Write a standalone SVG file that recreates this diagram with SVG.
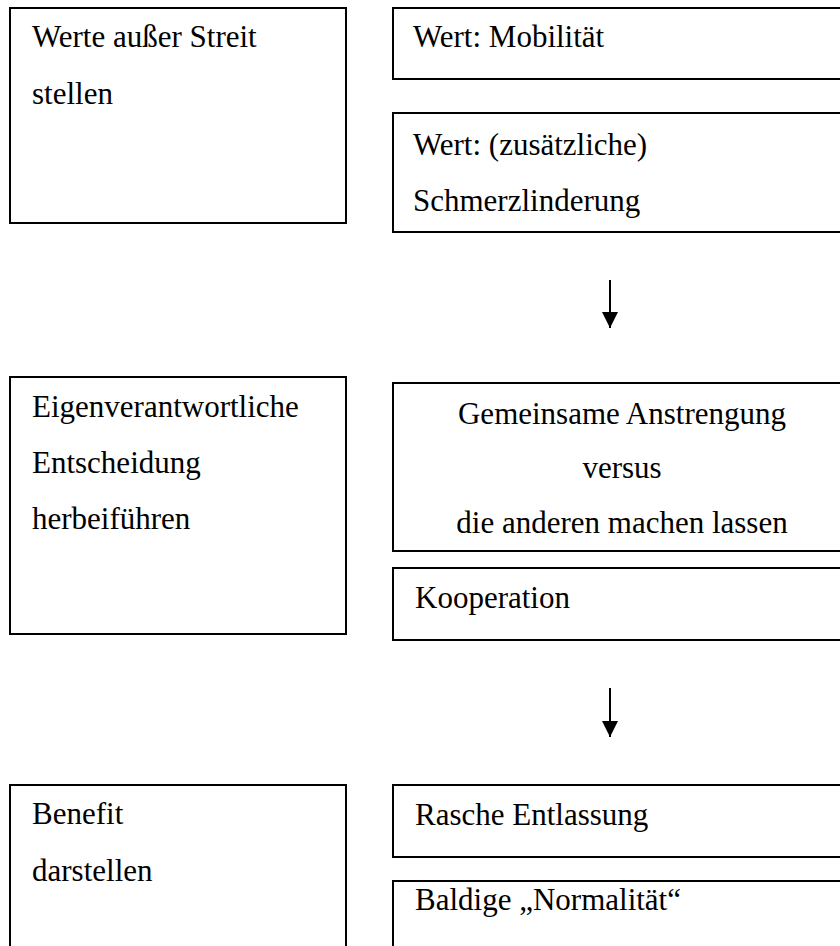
<svg xmlns="http://www.w3.org/2000/svg" width="840" height="946" viewBox="0 0 840 946">
  <style>
    .box { fill: #ffffff; stroke: #000000; stroke-width: 2; }
    .lbl { font-family: "Liberation Serif", "Times New Roman", serif; font-size: 31px; fill: #000000; }
    .mid { text-anchor: middle; }
    .conn { stroke: #000000; stroke-width: 2; fill: none; }
  </style>
  <defs>
    <marker id="head" viewBox="0 0 16 16" refX="16" refY="8" markerWidth="16" markerHeight="16" markerUnits="userSpaceOnUse" orient="auto">
      <path d="M0,0 L16,8 L0,16 Z" fill="#000000"/>
    </marker>
  </defs>
  <rect width="840" height="946" fill="#ffffff"/>

  <!-- row 1 -->
  <g id="werte">
    <rect class="box" x="10" y="8" width="336" height="215"/>
    <text class="lbl" x="32" y="47">Werte außer Streit</text>
    <text class="lbl" x="32" y="104">stellen</text>
  </g>
  <g id="mobilitaet">
    <rect class="box" x="393" y="8" width="460" height="71"/>
    <text class="lbl" x="413" y="47">Wert: Mobilität</text>
  </g>
  <g id="schmerz">
    <rect class="box" x="393" y="113" width="460" height="119"/>
    <text class="lbl" x="413" y="155">Wert: (zusätzliche)</text>
    <text class="lbl" x="413" y="211">Schmerzlinderung</text>
  </g>

  <!-- row 2 -->
  <g id="entscheidung">
    <rect class="box" x="10" y="377" width="336" height="257"/>
    <text class="lbl" x="32" y="417">Eigenverantwortliche</text>
    <text class="lbl" x="32" y="473">Entscheidung</text>
    <text class="lbl" x="32" y="529">herbeiführen</text>
  </g>
  <g id="anstrengung">
    <rect class="box" x="393" y="383" width="460" height="168"/>
    <text class="lbl mid" x="622" y="424">Gemeinsame Anstrengung</text>
    <text class="lbl mid" x="622" y="478">versus</text>
    <text class="lbl mid" x="622" y="533">die anderen machen lassen</text>
  </g>
  <g id="kooperation">
    <rect class="box" x="393" y="568" width="460" height="72"/>
    <text class="lbl" x="415" y="608">Kooperation</text>
  </g>

  <!-- row 3 -->
  <g id="benefit">
    <rect class="box" x="10" y="785" width="336" height="180"/>
    <text class="lbl" x="32" y="824">Benefit</text>
    <text class="lbl" x="32" y="881">darstellen</text>
  </g>
  <g id="entlassung">
    <rect class="box" x="393" y="785" width="460" height="72"/>
    <text class="lbl" x="415" y="825">Rasche Entlassung</text>
  </g>
  <g id="normalitaet">
    <rect class="box" x="393" y="881" width="460" height="90"/>
    <text class="lbl" x="415" y="910">Baldige „Normalität“</text>
  </g>

  <!-- connectors -->
  <g id="connectors">
    <line class="conn" x1="610" y1="280" x2="610" y2="328" marker-end="url(#head)"/>
    <line class="conn" x1="610" y1="688" x2="610" y2="737" marker-end="url(#head)"/>
  </g>
</svg>
